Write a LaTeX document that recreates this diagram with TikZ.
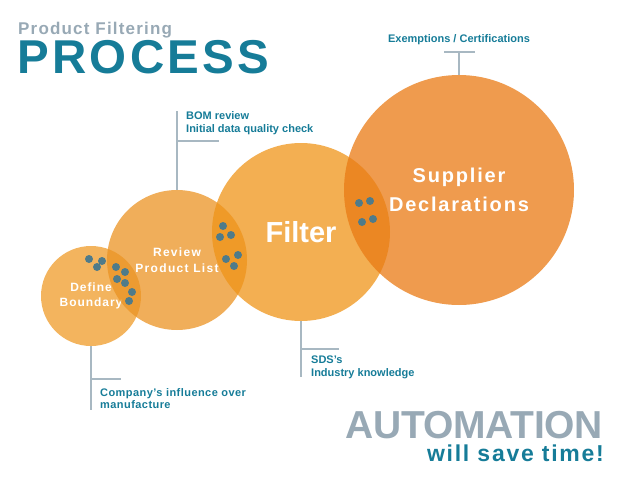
\documentclass[tikz,border=0pt]{standalone}
\usepackage{fontspec}
\setmainfont{Liberation Sans}
\usetikzlibrary{positioning}
\definecolor{procblue}{HTML}{167C98}
\definecolor{procgray}{HTML}{98A9B5}
\definecolor{linegray}{HTML}{A8B8C2}
\definecolor{dotblue}{HTML}{4F7B8A}
\definecolor{bndorange}{HTML}{EF9B28}
\definecolor{revorange}{HTML}{EB9323}
\definecolor{filtorange}{HTML}{EF9418}
\definecolor{suporange}{HTML}{E97A13}
\newcommand{\spaced}[1]{\addfontfeature{LetterSpace=#1}}

\begin{document}
\begin{tikzpicture}[x=1pt,y=-1pt,
	bubble/.style={circle,inner sep=0pt,fill opacity=0.75,text opacity=1,text=white,align=center},
	dot/.style={circle,fill=dotblue,inner sep=0pt,minimum size=8pt},
	callout/.style={draw=linegray,line width=2pt},
	note/.style={text=procblue,inner sep=0pt,align=left,font=\bfseries\fontsize{11}{13}\selectfont}]
\useasboundingbox (0,0) rectangle (625,482);
% title
\node[anchor=base west,inner sep=0pt,text=procgray,font=\bfseries\fontsize{17}{20}\selectfont\spaced{7}] (sub) at (18,34) {Product Filtering};
\node[anchor=base west,inner sep=0pt,text=procblue,font=\bfseries\fontsize{47.5}{52}\selectfont\spaced{7}] (title) at (17,73) {PROCESS};
% the four bubbles
\node[bubble,fill=bndorange,minimum size=100pt,font=\bfseries\fontsize{12}{15}\selectfont\spaced{8}] (define) at (91,296) {Define\\Boundary};
\node[bubble,fill=revorange,minimum size=140pt,font=\bfseries\fontsize{12}{16}\selectfont\spaced{11}] (review) at (177,260) {Review\\Product List};
\node[bubble,fill=filtorange,minimum size=178pt,font=\bfseries\fontsize{29}{32}\selectfont] (filter) at (301,232) {Filter};
\node[bubble,fill=suporange,minimum size=230pt,font=\bfseries\fontsize{20}{29}\selectfont\spaced{9}] (supplier) at (459,190) {Supplier\\Declarations};
% dots in the overlaps
\foreach \x/\y [count=\i] in {89/259,102/261,97/267,116/267,125/272,117/279,125/283,132/292,129/301,
	223/226,220/237,231/235,226/259,238/255,234/266,359/203,370/201,362/222,373/219}
	\node[dot] (d\i) at (\x,\y) {};
% callouts
\coordinate (exTop) at (459,52);
\coordinate (bomTop) at (177,111);
\coordinate (bomTick) at (177,141);
\coordinate (bomEnd) at (219,141);
\coordinate (cmpEnd) at (91,410);
\coordinate (cmpTick) at (91,379);
\coordinate (cmpTip) at (121,379);
\coordinate (sdsEnd) at (301,377);
\coordinate (sdsTick) at (301,349);
\coordinate (sdsTip) at (339,349);
\draw[callout] (supplier.north) -- (exTop);
\draw[callout] ([xshift=-15pt]exTop) -- ([xshift=16pt]exTop);
\draw[callout] (review.north) -- (bomTop);
\draw[callout] (bomTick) -- (bomEnd);
\draw[callout] (define.south) -- (cmpEnd);
\draw[callout] (cmpTick) -- (cmpTip);
\draw[callout] (filter.south) -- (sdsEnd);
\draw[callout] (sdsTick) -- (sdsTip);
\node[note,anchor=base] (exempt) at (459,42) {Exemptions / Certifications};
\node[note,anchor=north west] (bom) at (186,111) {BOM review\\Initial data quality check};
\node[note,anchor=north west,font=\bfseries\fontsize{11}{12.5}\selectfont\spaced{4}] (company) at (100,388) {Company’s influence over\\manufacture};
\node[note,anchor=north west] (sds) at (311,356) {SDS’s\\Industry knowledge};
% slogan
\node[anchor=base east,inner sep=0pt,text=procgray,font=\bfseries\fontsize{39}{44}\selectfont\spaced{-1}] (auto) at (603,438) {AUTOMATION};
\node[anchor=base east,inner sep=0pt,text=procblue,font=\bfseries\fontsize{23}{26}\selectfont\spaced{7.5}] (save) at (604,461) {will save time!};
\end{tikzpicture}
\end{document}
